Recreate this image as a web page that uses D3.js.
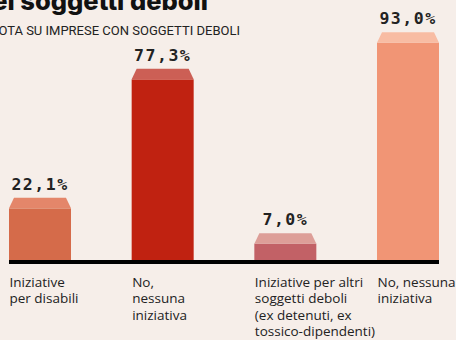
<!DOCTYPE html>
<html>
<head>
<meta charset="utf-8">
<script src="https://cdn.jsdelivr.net/npm/d3@7"></script>
<style>
  html, body { margin: 0; padding: 0; background: #f6eee9; }
  svg { display: block; }
</style>
</head>
<body>
<script>
// Categories (one line per array entry) and percentage values
const categories = [
  ["Iniziative", "per disabili"],
  ["No,", "nessuna", "iniziativa"],
  ["Iniziative per altri", "soggetti deboli", "(ex detenuti, ex", "tossico-dipendenti)"],
  ["No, nessuna", "iniziativa"]
];
const values = [22.1, 77.3, 7.0, 93.0];
const valueLabels = ["22,1%", "77,3%", "7,0%", "93,0%"];
const bodyColors = ["#d56b4a", "#c02211", "#c26166", "#f19575"];
const capColors  = ["#e4866a", "#cc5f55", "#dd9e98", "#f8bca3"];

const W = 456, H = 340;
const baseY = 260;

const svg = d3.select("body").append("svg")
  .attr("width", W).attr("height", H);

svg.append("rect").attr("width", W).attr("height", H).attr("fill", "#f6eee9");

// Heading (runs past the top-left edge of the frame)
svg.append("text")
  .attr("x", 208).attr("y", 10)
  .attr("text-anchor", "end")
  .attr("font-family", "Inter, 'Noto Sans', sans-serif")
  .attr("font-weight", 800)
  .attr("font-size", 25.5)
  .attr("fill", "#111")
  .text("dei soggetti deboli");

svg.append("text")
  .attr("x", 240).attr("y", 34.5)
  .attr("text-anchor", "end")
  .attr("font-family", "Roboto, sans-serif")
  .attr("font-size", 13)
  .attr("fill", "#222")
  .text("QUOTA SU IMPRESE CON SOGGETTI DEBOLI");

const idx = values.map((d, i) => i);

const x = d3.scaleBand()
  .domain(idx)
  .range([9, 439])
  .paddingInner(0.4946)
  .paddingOuter(0);

const y = d3.scaleLinear()
  .domain([0, 100])
  .range([baseY, 26.3]);

const capH = 10.5, capInset = 5;

const g = svg.append("g");

const bars = g.selectAll("g.bar").data(idx).join("g").attr("class", "bar");

// bar body
bars.append("rect")
  .attr("x", i => x(i))
  .attr("y", i => y(values[i]))
  .attr("width", x.bandwidth())
  .attr("height", i => baseY - y(values[i]))
  .attr("fill", i => bodyColors[i]);

// bevelled top
bars.append("path")
  .attr("d", i => {
    const x0 = x(i), x1 = x(i) + x.bandwidth(), t = y(values[i]);
    return `M${x0},${t}L${x0 + capInset},${t - capH}L${x1 - capInset},${t - capH}L${x1},${t}Z`;
  })
  .attr("fill", i => capColors[i]);

// value labels
bars.append("text")
  .attr("x", i => x(i) + x.bandwidth() / 2)
  .attr("y", i => y(values[i]) - capH - 8)
  .attr("text-anchor", "middle")
  .attr("font-family", "'DejaVu Sans Mono', monospace")
  .attr("font-weight", "bold")
  .attr("font-size", 16.5)
  .attr("letter-spacing", 1.5)
  .attr("fill", "#222")
  .text(i => valueLabels[i]);

// baseline
svg.append("rect")
  .attr("x", 9).attr("y", baseY)
  .attr("width", 430).attr("height", 4)
  .attr("fill", "#000");

// category labels
bars.append("text")
  .attr("font-family", "'Open Sans', sans-serif")
  .attr("font-size", 13.5)
  .attr("fill", "#222")
  .selectAll("tspan")
  .data(i => categories[i].map(t => ({ t, i })))
  .join("tspan")
  .attr("x", d => x(d.i) + 0.5)
  .attr("y", (d, k) => 286.5 + k * 16.5)
  .text(d => d.t);
</script>
</body>
</html>
